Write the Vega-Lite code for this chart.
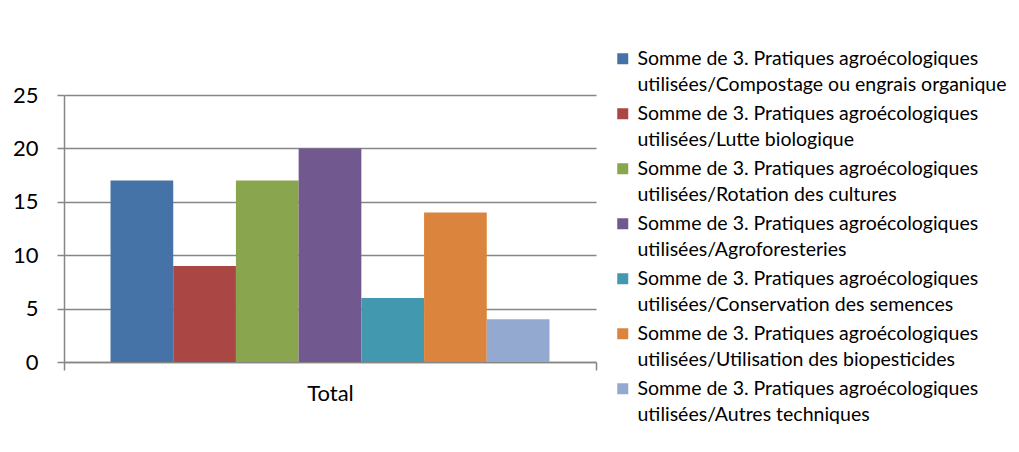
{
  "$schema": "https://vega.github.io/schema/vega-lite/v6.json",
  "width": 532,
  "height": 267,
  "autosize": {"type": "none"},
  "padding": {"left": 64, "top": 95, "right": 423, "bottom": 90},
  "background": "white",
  "data": {"values": [
    {"categorie": "Total", "serie": "Somme de 3. Pratiques agroécologiques utilisées/Compostage ou engrais organique", "valeur": 17},
    {"categorie": "Total", "serie": "Somme de 3. Pratiques agroécologiques utilisées/Lutte biologique", "valeur": 9},
    {"categorie": "Total", "serie": "Somme de 3. Pratiques agroécologiques utilisées/Rotation des cultures", "valeur": 17},
    {"categorie": "Total", "serie": "Somme de 3. Pratiques agroécologiques utilisées/Agroforesteries", "valeur": 20},
    {"categorie": "Total", "serie": "Somme de 3. Pratiques agroécologiques utilisées/Conservation des semences", "valeur": 6},
    {"categorie": "Total", "serie": "Somme de 3. Pratiques agroécologiques utilisées/Utilisation des biopesticides", "valeur": 14},
    {"categorie": "Total", "serie": "Somme de 3. Pratiques agroécologiques utilisées/Autres techniques", "valeur": 4}
  ]},
  "mark": {"type": "bar"},
  "encoding": {
    "x": {
      "field": "categorie", "type": "nominal", "title": null,
      "scale": {"paddingInner": 0, "paddingOuter": 0},
      "axis": {
        "labelAngle": 0, "labelFont": "Lato", "labelFontSize": 22, "labelColor": "#000000",
        "labelPadding": 13, "tickBand": "extent", "tickSize": 8, "tickColor": "#868686", "tickWidth": 1.5,
        "domainColor": "#868686", "domainWidth": 1.5
      }
    },
    "xOffset": {
      "field": "serie", "type": "nominal", "sort": null,
      "scale": {"paddingInner": 0, "paddingOuter": 0.742}
    },
    "y": {
      "field": "valeur", "type": "quantitative", "title": null,
      "scale": {"domain": [0, 25], "nice": false},
      "axis": {
        "values": [0, 5, 10, 15, 20, 25], "labelFont": "Lato", "labelFontSize": 22, "labelColor": "#000000",
        "labelPadding": 19, "tickSize": 7, "tickColor": "#868686", "tickWidth": 1.5,
        "domainColor": "#868686", "domainWidth": 1.5,
        "grid": true, "gridColor": "#868686", "gridWidth": 1.5
      }
    },
    "color": {
      "field": "serie", "type": "nominal", "sort": null, "title": null,
      "scale": {"range": ["#4572A7", "#AA4643", "#89A54E", "#71588F", "#4198AF", "#DB843D", "#93A9CF"]},
      "legend": {
        "orient": "none", "legendX": 549, "legendY": -46,
        "symbolType": "square", "symbolSize": 121, "symbolStrokeWidth": 0,
        "labelFont": "Lato", "labelFontSize": 19.5, "labelColor": "#000000", "labelLimit": 420,
        "labelOffset": 5, "rowPadding": 8,
        "labelExpr": "split(replace(datum.label, 'agroécologiques ', 'agroécologiques|'), '|')",
        "encode": {"labels": {"update": {"lineHeight": {"value": 26}}}}
      }
    }
  },
  "config": {"view": {"stroke": null}}
}
